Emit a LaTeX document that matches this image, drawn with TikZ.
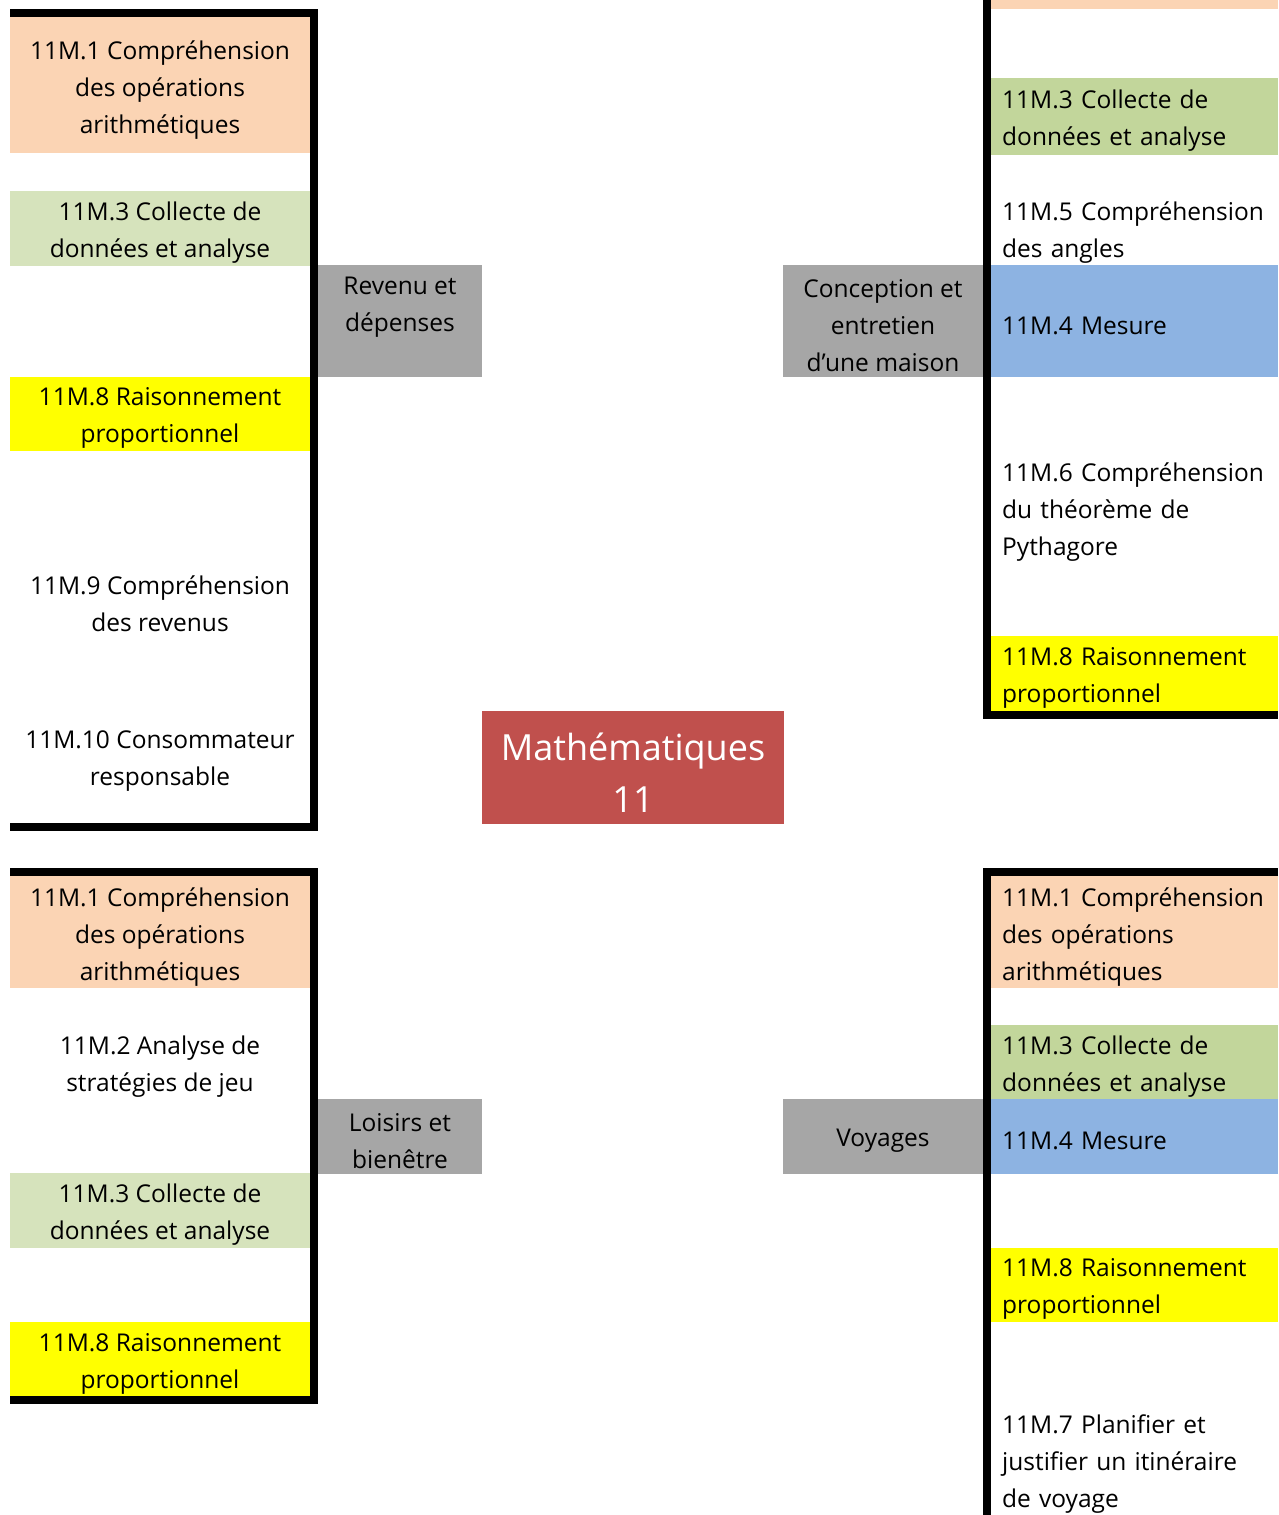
\documentclass[tikz,border=0pt]{standalone}
\usepackage{fontspec}
\setmainfont{Open Sans}
\definecolor{peach}{HTML}{FBD4B4}
\definecolor{lgreen}{HTML}{D6E3BC}
\definecolor{dgreen}{HTML}{C2D69B}
\definecolor{sky}{HTML}{8DB3E2}
\definecolor{greybox}{HTML}{A6A6A6}
\definecolor{yel}{HTML}{FFFF00}
\definecolor{redbox}{HTML}{C0504D}
\begin{document}
\begin{tikzpicture}[x=1pt,y=-1pt,
  fillbox/.style={draw=none, inner sep=0pt, outer sep=0pt},
  ltext/.style={font=\fontsize{24.5}{37}\selectfont, align=center, inner sep=0pt, yshift=-3pt},
  rtext/.style={font=\fontsize{24.5}{37}\selectfont, align=left, text width=276pt, anchor=west, inner sep=0pt, yshift=-3pt},
  bracket/.style={line width=8pt, line join=miter, line cap=butt}]
\useasboundingbox (0,0) rectangle (1278,1515);

% ---------- top-left group ----------
\node[fillbox, fill=peach, minimum width=300pt, minimum height=136pt] (tlA) at (160,85) {};
\node[fillbox, fill=lgreen, minimum width=300pt, minimum height=75pt] (tlB) at (160,228.5) {};
\node[fillbox, fill=yel, minimum width=300pt, minimum height=74pt] (tlC) at (160,414) {};
\node[fillbox, fill=greybox, minimum width=164pt, minimum height=112pt] (tlG) at (400,321) {};
\node[ltext] (tlAt) at (160,87) {11M.1 Compréhension\\des opérations\\arithmétiques};
\node[ltext] (tlBt) at (160,230) {11M.3 Collecte de\\données et analyse};
\node[ltext] (tlCt) at (160,415) {11M.8 Raisonnement\\proportionnel};
\node[ltext] (tlDt) at (160,601) {11M.9 Compréhension\\des revenus};
\node[ltext] (tlEt) at (160,758) {11M.10 Consommateur\\responsable};
\node[ltext] (tlGt) at (400,304) {Revenu et\\dépenses};
\coordinate (tl1) at (10,13);
\coordinate (tl2) at (314,13);
\coordinate (tl3) at (314,827);
\coordinate (tl4) at (10,827);
\draw[bracket] (tl1) -- (tl2) -- (tl3) -- (tl4);

% ---------- top-right group ----------
\node[fillbox, fill=peach, minimum width=287pt, minimum height=9pt] (trP) at (1134.5,4.5) {};
\node[fillbox, fill=dgreen, minimum width=287pt, minimum height=77pt] (trA) at (1134.5,116.5) {};
\node[fillbox, fill=sky, minimum width=287pt, minimum height=112pt] (trB) at (1134.5,321) {};
\node[fillbox, fill=greybox, minimum width=200pt, minimum height=112pt] (trG) at (883,321) {};
\node[fillbox, fill=yel, minimum width=287pt, minimum height=75pt] (trC) at (1134.5,673.5) {};
\node[rtext] (trAt) at (1002,118) {11M.3 Collecte de\\données et analyse};
\node[rtext] (trDt) at (1002,230) {11M.5 Compréhension\\des angles};
\node[rtext] (trBt) at (1002,323) {11M.4 Mesure};
\node[ltext] (trGt) at (883,323) {Conception et\\entretien\\d’une maison};
\node[rtext] (trEt) at (1002,509) {11M.6 Compréhension\\du théorème de\\Pythagore};
\node[rtext] (trCt) at (1002,675) {11M.8 Raisonnement\\proportionnel};
\coordinate (tr1) at (987,0);
\coordinate (tr2) at (987,715);
\coordinate (tr3) at (1278,715);
\draw[bracket] (tr1) -- (tr2) -- (tr3);

% ---------- centre ----------
\node[fillbox, fill=redbox, minimum width=302pt, minimum height=113pt] (ctr) at (633,767.5) {};
\node[inner sep=0pt, align=center, text=white, font=\fontsize{36}{52}\selectfont] (ctrt) at (633,773) {Mathématiques\\11};

% ---------- bottom-left group ----------
\node[fillbox, fill=peach, minimum width=300pt, minimum height=112pt] (blA) at (160,932) {};
\node[fillbox, fill=greybox, minimum width=164pt, minimum height=75pt] (blG) at (400,1136.5) {};
\node[fillbox, fill=lgreen, minimum width=300pt, minimum height=75pt] (blB) at (160,1210.5) {};
\node[fillbox, fill=yel, minimum width=300pt, minimum height=74pt] (blC) at (160,1359) {};
\node[ltext] (blAt) at (160,934) {11M.1 Compréhension\\des opérations\\arithmétiques};
\node[ltext] (blDt) at (160,1064) {11M.2 Analyse de\\stratégies de jeu};
\node[ltext] (blGt) at (400,1138) {Loisirs et\\bienêtre};
\node[ltext] (blBt) at (160,1212) {11M.3 Collecte de\\données et analyse};
\node[ltext] (blCt) at (160,1361) {11M.8 Raisonnement\\proportionnel};
\coordinate (bl1) at (10,872);
\coordinate (bl2) at (314,872);
\coordinate (bl3) at (314,1400);
\coordinate (bl4) at (10,1400);
\draw[bracket] (bl1) -- (bl2) -- (bl3) -- (bl4);

% ---------- bottom-right group ----------
\node[fillbox, fill=peach, minimum width=287pt, minimum height=112pt] (brA) at (1134.5,932) {};
\node[fillbox, fill=dgreen, minimum width=287pt, minimum height=74pt] (brB) at (1134.5,1062) {};
\node[fillbox, fill=sky, minimum width=287pt, minimum height=75pt] (brC) at (1134.5,1136.5) {};
\node[fillbox, fill=greybox, minimum width=200pt, minimum height=75pt] (brG) at (883,1136.5) {};
\node[fillbox, fill=yel, minimum width=287pt, minimum height=74pt] (brD) at (1134.5,1285) {};
\node[rtext] (brAt) at (1002,934) {11M.1 Compréhension\\des opérations\\arithmétiques};
\node[rtext] (brBt) at (1002,1064) {11M.3 Collecte de\\données et analyse};
\node[rtext] (brCt) at (1002,1138) {11M.4 Mesure};
\node[ltext] (brGt) at (883,1138) {Voyages};
\node[rtext] (brDt) at (1002,1286) {11M.8 Raisonnement\\proportionnel};
\node[rtext] (brEt) at (1002,1461) {11M.7 Planifier et\\justifier un itinéraire\\de voyage};
\coordinate (br1) at (1278,872);
\coordinate (br2) at (987,872);
\coordinate (br3) at (987,1515);
\draw[bracket] (br1) -- (br2) -- (br3);
\end{tikzpicture}
\end{document}
